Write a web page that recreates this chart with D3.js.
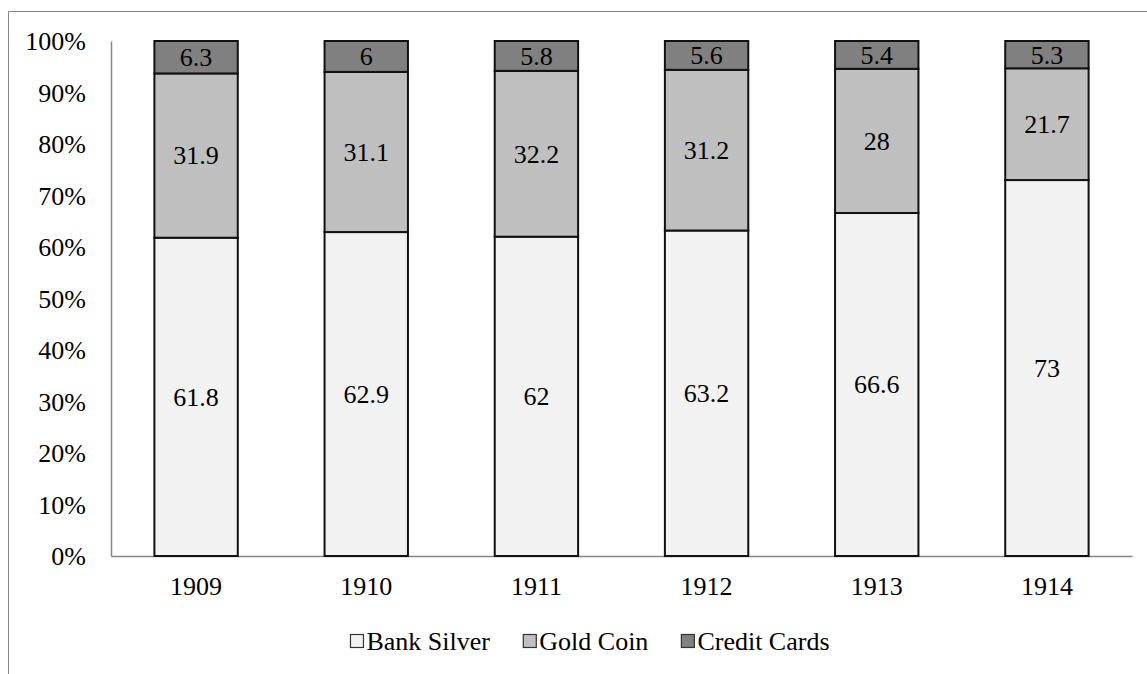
<!DOCTYPE html>
<html>
<head>
<meta charset="utf-8">
<script src="https://cdn.jsdelivr.net/npm/d3@7"></script>
<style>
    body{ margin:0; background:#fff; }
    svg text{ font-family:"Liberation Serif","Tinos","Times New Roman","DejaVu Serif",serif !important; fill:#000; }
    .axis path, .axis line{ stroke:#868686; }
</style>
</head>
<body>
<svg id="chart" width="1147" height="674"></svg>
<script>
// data
const years = ['1909', '1910', '1911', '1912', '1913', '1914'];
const seriesNames = ['Bank Silver', 'Gold Coin', 'Credit Cards'];
const bankSilver = [61.8, 62.9, 62, 63.2, 66.6, 73];
const goldCoin = [31.9, 31.1, 32.2, 31.2, 28, 21.7];
const creditCards = [6.3, 6, 5.8, 5.6, 5.4, 5.3];
const yTicks = [0, 10, 20, 30, 40, 50, 60, 70, 80, 90, 100];

const colors = ['#f2f2f2', '#bfbfbf', '#808080'];
const fontSize = '26px';

let svg = d3.select('#chart');
let margin = {l: 111, t: 41, r: 15, b: 118};
let size = {w: 1147, h: 674};
let chartSize = {w: size.w - margin.l - margin.r, h: size.h - margin.t - margin.b};

//outer frame (only top and left edges show)
svg.append('path')
    .attr('d', 'M8.5,674 L8.5,11.5 L1147,11.5')
    .attr('fill', 'none')
    .attr('stroke', '#888')
    .attr('stroke-width', 1);

let table = years.map((y, i) => ({
    year: y,
    'Bank Silver': bankSilver[i],
    'Gold Coin': goldCoin[i],
    'Credit Cards': creditCards[i]
}));

let stacked = d3.stack().keys(seriesNames)(table);

let scaleX = d3.scaleBand()
    .domain(years)
    .range([0, chartSize.w])
    .paddingInner(0.51)
    .paddingOuter(0.255);

let scaleY = d3.scaleLinear()
    .domain([0, 100])
    .range([chartSize.h, 0]);

let g = svg.append('g')
    .attr('transform', `translate(${margin.l}, ${margin.t})`);

//axes
let axisY = g.append('g').attr('class', 'axis axis-y')
    .call(d3.axisLeft(scaleY).tickValues(yTicks).tickSize(0).tickPadding(25).tickFormat(d => d + '%'));
axisY.attr('font-family', null);
axisY.selectAll('text').style('font-size', fontSize).attr('dy', '0.34em');
axisY.select('path').attr('stroke-width', 1.5);

let axisX = g.append('g').attr('class', 'axis axis-x')
    .attr('transform', `translate(0, ${chartSize.h})`)
    .call(d3.axisBottom(scaleX).tickSize(0).tickPadding(21));
axisX.attr('font-family', null);
axisX.selectAll('text').style('font-size', fontSize);
axisX.select('path').attr('stroke-width', 1.5);

//bars
let layers = g.selectAll('g.layer')
    .data(stacked)
    .join('g')
    .attr('class', 'layer')
    .attr('fill', (d, i) => colors[i]);

layers.selectAll('rect')
    .data(d => d)
    .join('rect')
    .attr('x', d => scaleX(d.data.year))
    .attr('y', d => scaleY(d[1]))
    .attr('width', scaleX.bandwidth())
    .attr('height', d => scaleY(d[0]) - scaleY(d[1]))
    .attr('stroke', '#111')
    .attr('stroke-width', 2);

//values in segments
layers.selectAll('text')
    .data(d => d.map(p => ({p: p, key: d.key})))
    .join('text')
    .attr('x', d => scaleX(d.p.data.year) + scaleX.bandwidth() / 2)
    .attr('y', d => scaleY((d.p[0] + d.p[1]) / 2))
    .attr('dy', '0.34em')
    .style('text-anchor', 'middle')
    .style('font-size', fontSize)
    .text(d => d.p.data[d.key]);

//legend
let legend = svg.append('g').attr('transform', 'translate(0, 641)');
let items = legend.selectAll('g.item')
    .data(seriesNames)
    .join('g')
    .attr('class', 'item');

items.append('rect')
    .attr('x', 0)
    .attr('y', -6.5)
    .attr('width', 13)
    .attr('height', 13)
    .attr('fill', (d, i) => colors[i])
    .attr('stroke', '#333')
    .attr('stroke-width', 1.2);

items.append('text')
    .attr('x', 16)
    .attr('dy', '0.34em')
    .style('font-size', fontSize)
    .text(d => d);

let widths = [];
items.each(function(){ widths.push(this.getBBox().width); });
let gap = 33;
let total = d3.sum(widths) + gap * (widths.length - 1);
let cursor = 590 - total / 2;
items.attr('transform', (d, i) => {
    let x = cursor;
    cursor += widths[i] + gap;
    return `translate(${x}, 0)`;
});
</script>
</body>
</html>
